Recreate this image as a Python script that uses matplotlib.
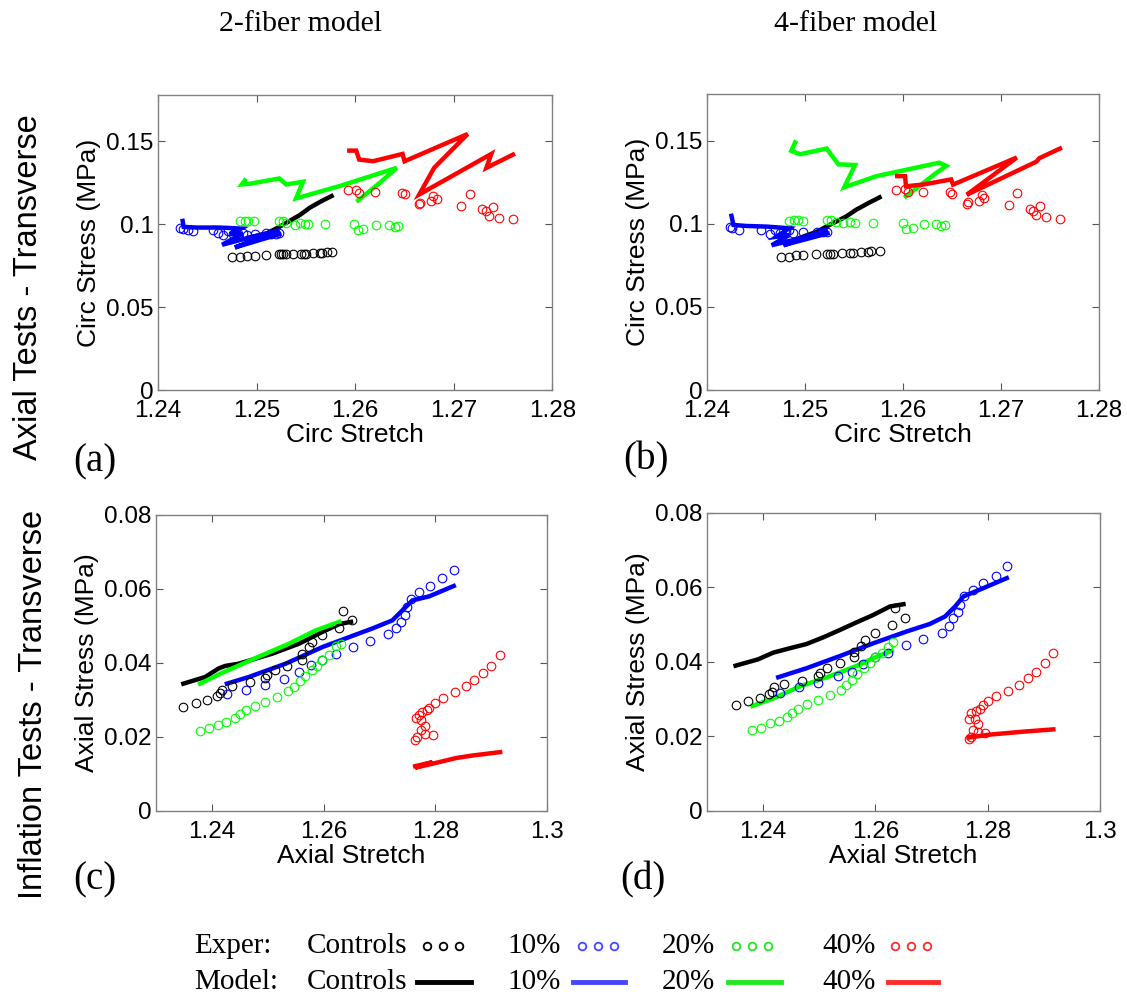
import matplotlib
matplotlib.use('Agg')
import matplotlib.pyplot as plt
from matplotlib.lines import Line2D

# ---------------- panel (a): axial tests, 2-fiber ----------------
a_exp_ctrl_x = [1.2475, 1.2483, 1.2490, 1.2498, 1.2510, 1.2523, 1.2525, 1.2527, 1.2530, 1.2537,
                1.2545, 1.2548, 1.2550, 1.2557, 1.2564, 1.2566, 1.2571, 1.2576]
a_exp_ctrl_y = [0.0804, 0.0800, 0.0806, 0.0810, 0.0814, 0.0820, 0.0820, 0.0820, 0.0820, 0.0820,
                0.0820, 0.0820, 0.0820, 0.0826, 0.0826, 0.0826, 0.0832, 0.0832]
a_mod_ctrl_x = [1.2493, 1.2510, 1.2523, 1.2544, 1.2554, 1.2566, 1.2576]
a_mod_ctrl_y = [0.0920, 0.0944, 0.0984, 0.1056, 0.1100, 0.1140, 0.1170]
a_exp_10_x = [1.2422, 1.2425, 1.2430, 1.2435, 1.2456, 1.2461, 1.2466, 1.2471, 1.2476, 1.2481,
              1.2486, 1.2490, 1.2498, 1.2510, 1.2515, 1.2520, 1.2523]
a_exp_10_y = [0.0980, 0.0970, 0.0964, 0.0960, 0.0964, 0.0950, 0.0936, 0.0960, 0.0944, 0.0936,
              0.0950, 0.0936, 0.0944, 0.0950, 0.0940, 0.0944, 0.0950]
a_mod_10_x = [1.2425, 1.2426, 1.2439, 1.2463, 1.2484, 1.2473, 1.2486, 1.2465, 1.2493, 1.2523, 1.2478, 1.2523]
a_mod_10_y = [0.1020, 0.0984, 0.0980, 0.0980, 0.0974, 0.0940, 0.0944, 0.0876, 0.0920, 0.0964, 0.0860, 0.0940]
a_exp_20_x = [1.2483, 1.2488, 1.2491, 1.2497, 1.2523, 1.2527, 1.2530, 1.2539, 1.2544, 1.2549,
              1.2552, 1.2569, 1.2599, 1.2603, 1.2608, 1.2621, 1.2634, 1.2640, 1.2643]
a_exp_20_y = [0.1020, 0.1020, 0.1020, 0.1020, 0.1020, 0.1020, 0.1010, 0.0996, 0.1010, 0.1004,
              0.1004, 0.1000, 0.1000, 0.0964, 0.0974, 0.0994, 0.0994, 0.0984, 0.0990]
a_mod_20_x = [1.2488, 1.2485, 1.2493, 1.2523, 1.2530, 1.2547, 1.2540, 1.2584, 1.2642, 1.2625, 1.2603]
a_mod_20_y = [0.1264, 0.1240, 0.1244, 0.1276, 0.1240, 0.1256, 0.1156, 0.1230, 0.1340, 0.1250, 0.1144]
a_exp_40_x = [1.2593, 1.2601, 1.2604, 1.2620, 1.2647, 1.2650, 1.2665, 1.2666, 1.2677, 1.2679,
              1.2683, 1.2707, 1.2716, 1.2729, 1.2733, 1.2736, 1.2740, 1.2746, 1.2760]
a_exp_40_y = [0.1204, 0.1204, 0.1190, 0.1194, 0.1190, 0.1180, 0.1120, 0.1130, 0.1140, 0.1170,
              0.1150, 0.1110, 0.1180, 0.1090, 0.1080, 0.1050, 0.1104, 0.1040, 0.1030]
a_mod_40_x = [1.2594, 1.2601, 1.2604, 1.2618, 1.2648, 1.2650, 1.2714, 1.2680, 1.2665, 1.2738, 1.2733, 1.2760]
a_mod_40_y = [0.1444, 0.1444, 0.1390, 0.1380, 0.1424, 0.1380, 0.1544, 0.1340, 0.1180, 0.1424, 0.1340, 0.1420]

# ---------------- panel (b): axial tests, 4-fiber ----------------
b_exp_ctrl_x = [1.2475, 1.2484, 1.2491, 1.2498, 1.2511, 1.2522, 1.2525, 1.2529, 1.2538, 1.2546,
                1.2549, 1.2557, 1.2564, 1.2567, 1.2576]
b_exp_ctrl_y = [0.0801, 0.0801, 0.0811, 0.0815, 0.0817, 0.0822, 0.0822, 0.0822, 0.0826, 0.0826,
                0.0826, 0.0832, 0.0832, 0.0836, 0.0838]
b_mod_ctrl_x = [1.2495, 1.2512, 1.2525, 1.2542, 1.2552, 1.2566, 1.2576]
b_mod_ctrl_y = [0.0917, 0.0953, 0.0994, 0.1045, 0.1085, 0.1130, 0.1160]
b_exp_10_x = [1.2423, 1.2426, 1.2433, 1.2455, 1.2464, 1.2469, 1.2474, 1.2481, 1.2484, 1.2488,
              1.2498, 1.2512, 1.2518, 1.2522]
b_exp_10_y = [0.0984, 0.0974, 0.0963, 0.0963, 0.0937, 0.0963, 0.0943, 0.0953, 0.0963, 0.0943,
              0.0949, 0.0953, 0.0953, 0.0949]
b_mod_10_x = [1.2425, 1.2427, 1.2440, 1.2461, 1.2484, 1.2471, 1.2484, 1.2466, 1.2495, 1.2523, 1.2478, 1.2523]
b_mod_10_y = [0.1049, 0.0994, 0.0988, 0.0984, 0.0974, 0.0923, 0.0933, 0.0872, 0.0913, 0.0963, 0.0872, 0.0943]
b_exp_20_x = [1.2484, 1.2489, 1.2493, 1.2498, 1.2522, 1.2527, 1.2532, 1.2539, 1.2546, 1.2551,
              1.2569, 1.2600, 1.2603, 1.2610, 1.2621, 1.2634, 1.2639, 1.2643]
b_exp_20_y = [0.1018, 0.1024, 0.1024, 0.1020, 0.1024, 0.1024, 0.1010, 0.1004, 0.1014, 0.1008,
              0.1004, 0.1004, 0.0968, 0.0974, 0.0998, 0.0998, 0.0990, 0.0994]
b_mod_20_x = [1.2490, 1.2486, 1.2495, 1.2522, 1.2534, 1.2551, 1.2540, 1.2573, 1.2637, 1.2644, 1.2634, 1.2603]
b_mod_20_y = [0.1491, 0.1440, 0.1420, 0.1454, 0.1359, 0.1355, 0.1221, 0.1288, 0.1369, 0.1349, 0.1308, 0.1166]
b_exp_40_x = [1.2593, 1.2602, 1.2605, 1.2620, 1.2648, 1.2650, 1.2665, 1.2666, 1.2677, 1.2680,
              1.2683, 1.2708, 1.2716, 1.2729, 1.2733, 1.2736, 1.2740, 1.2746, 1.2760]
b_exp_40_y = [0.1207, 0.1211, 0.1193, 0.1193, 0.1193, 0.1181, 0.1120, 0.1132, 0.1140, 0.1172,
              0.1156, 0.1112, 0.1185, 0.1091, 0.1075, 0.1051, 0.1108, 0.1041, 0.1030]
b_mod_40_x = [1.2594, 1.2602, 1.2603, 1.2620, 1.2649, 1.2651, 1.2716, 1.2678, 1.2665, 1.2736, 1.2739, 1.2760]
b_mod_40_y = [0.1288, 0.1288, 0.1227, 0.1237, 0.1268, 0.1237, 0.1400, 0.1233, 0.1176, 0.1375, 0.1396, 0.1454]

# ---------------- panel (c): inflation tests, 2-fiber ----------------
c_exp_ctrl_x = [1.2349, 1.2371, 1.2392, 1.2409, 1.2414, 1.2418, 1.2436, 1.2469, 1.2496, 1.2499,
                1.2513, 1.2535, 1.2562, 1.2562, 1.2574, 1.2580, 1.2598, 1.2628, 1.2634, 1.2651]
c_exp_ctrl_y = [0.0281, 0.0292, 0.0299, 0.0310, 0.0319, 0.0328, 0.0337, 0.0349, 0.0360, 0.0368,
                0.0380, 0.0392, 0.0409, 0.0425, 0.0443, 0.0457, 0.0476, 0.0495, 0.0541, 0.0517]
c_mod_ctrl_x = [1.2349, 1.2388, 1.2412, 1.2424, 1.2448, 1.2508, 1.2556, 1.2598, 1.2628, 1.2649]
c_mod_ctrl_y = [0.0344, 0.0362, 0.0385, 0.0392, 0.0398, 0.0425, 0.0452, 0.0484, 0.0505, 0.0511]
c_exp_10_x = [1.2427, 1.2461, 1.2496, 1.2530, 1.2556, 1.2577, 1.2598, 1.2622, 1.2653, 1.2683,
              1.2716, 1.2729, 1.2738, 1.2746, 1.2749, 1.2757, 1.2771, 1.2791, 1.2812, 1.2833]
c_exp_10_y = [0.0317, 0.0328, 0.0341, 0.0357, 0.0376, 0.0395, 0.0409, 0.0423, 0.0442, 0.0458,
              0.0477, 0.0495, 0.0511, 0.0529, 0.0551, 0.0574, 0.0592, 0.0608, 0.0630, 0.0652]
c_mod_10_x = [1.2427, 1.2466, 1.2532, 1.2598, 1.2646, 1.2687, 1.2723, 1.2741, 1.2759, 1.2789, 1.2833]
c_mod_10_y = [0.0344, 0.0362, 0.0398, 0.0443, 0.0470, 0.0493, 0.0515, 0.0542, 0.0569, 0.0580, 0.0608]
c_exp_20_x = [1.2378, 1.2395, 1.2411, 1.2425, 1.2441, 1.2451, 1.2461, 1.2477, 1.2496, 1.2517,
              1.2537, 1.2547, 1.2557, 1.2566, 1.2580, 1.2589, 1.2598, 1.2610, 1.2622, 1.2631]
c_exp_20_y = [0.0215, 0.0223, 0.0233, 0.0241, 0.0250, 0.0261, 0.0272, 0.0284, 0.0295, 0.0308,
              0.0323, 0.0335, 0.0350, 0.0365, 0.0380, 0.0392, 0.0409, 0.0421, 0.0446, 0.0450]
c_mod_20_x = [1.2379, 1.2418, 1.2478, 1.2538, 1.2586, 1.2628]
c_mod_20_y = [0.0344, 0.0373, 0.0413, 0.0452, 0.0488, 0.0511]
c_exp_40_x = [1.2764, 1.2768, 1.2782, 1.2795, 1.2774, 1.2782, 1.2774, 1.2765, 1.2770, 1.2777,
              1.2786, 1.2789, 1.2800, 1.2814, 1.2835, 1.2855, 1.2870, 1.2885, 1.2900, 1.2916]
c_exp_40_y = [0.0191, 0.0200, 0.0209, 0.0204, 0.0218, 0.0229, 0.0245, 0.0250, 0.0259, 0.0268,
              0.0272, 0.0277, 0.0293, 0.0305, 0.0321, 0.0337, 0.0353, 0.0373, 0.0393, 0.0422]
c_mod_40_x = [1.2764, 1.2795, 1.2764, 1.2796, 1.2837, 1.2867, 1.2916]
c_mod_40_y = [0.0121, 0.0132, 0.0117, 0.0128, 0.0143, 0.0150, 0.0159]

# ---------------- panel (d): inflation tests, 4-fiber ----------------
d_exp_ctrl_x = [1.2351, 1.2373, 1.2394, 1.2411, 1.2415, 1.2420, 1.2437, 1.2470, 1.2498, 1.2501,
                1.2513, 1.2537, 1.2562, 1.2562, 1.2575, 1.2581, 1.2599, 1.2629, 1.2635, 1.2653]
d_exp_ctrl_y = [0.0284, 0.0295, 0.0302, 0.0314, 0.0320, 0.0334, 0.0340, 0.0349, 0.0361, 0.0370,
                0.0383, 0.0396, 0.0414, 0.0428, 0.0443, 0.0459, 0.0479, 0.0500, 0.0544, 0.0517]
d_mod_ctrl_x = [1.2351, 1.2391, 1.2418, 1.2448, 1.2477, 1.2507, 1.2537, 1.2566, 1.2596, 1.2626, 1.2650]
d_mod_ctrl_y = [0.0390, 0.0407, 0.0425, 0.0437, 0.0448, 0.0466, 0.0486, 0.0506, 0.0526, 0.0549, 0.0555]
d_exp_10_x = [1.2430, 1.2464, 1.2498, 1.2533, 1.2559, 1.2578, 1.2600, 1.2623, 1.2654, 1.2685,
              1.2718, 1.2732, 1.2739, 1.2747, 1.2751, 1.2758, 1.2773, 1.2792, 1.2814, 1.2834]
d_exp_10_y = [0.0317, 0.0334, 0.0343, 0.0361, 0.0374, 0.0395, 0.0413, 0.0423, 0.0445, 0.0461,
              0.0479, 0.0497, 0.0517, 0.0533, 0.0553, 0.0578, 0.0594, 0.0612, 0.0631, 0.0657]
d_mod_10_x = [1.2427, 1.2477, 1.2537, 1.2596, 1.2656, 1.2697, 1.2724, 1.2742, 1.2757, 1.2792, 1.2834]
d_mod_10_y = [0.0359, 0.0383, 0.0416, 0.0450, 0.0482, 0.0502, 0.0522, 0.0549, 0.0576, 0.0598, 0.0625]
d_exp_20_x = [1.2380, 1.2397, 1.2413, 1.2428, 1.2443, 1.2452, 1.2462, 1.2478, 1.2497, 1.2519,
              1.2538, 1.2547, 1.2558, 1.2568, 1.2579, 1.2590, 1.2599, 1.2611, 1.2623, 1.2632]
d_exp_20_y = [0.0217, 0.0223, 0.0235, 0.0242, 0.0253, 0.0264, 0.0273, 0.0287, 0.0298, 0.0311,
              0.0326, 0.0338, 0.0352, 0.0368, 0.0383, 0.0396, 0.0413, 0.0425, 0.0439, 0.0453]
d_mod_20_x = [1.2381, 1.2418, 1.2465, 1.2519, 1.2566, 1.2602, 1.2629]
d_mod_20_y = [0.0282, 0.0302, 0.0334, 0.0362, 0.0389, 0.0414, 0.0430]
d_exp_40_x = [1.2766, 1.2770, 1.2782, 1.2795, 1.2774, 1.2783, 1.2777, 1.2766, 1.2771, 1.2780,
              1.2786, 1.2792, 1.2801, 1.2815, 1.2836, 1.2855, 1.2871, 1.2886, 1.2902, 1.2917]
d_exp_40_y = [0.0192, 0.0199, 0.0213, 0.0208, 0.0217, 0.0233, 0.0246, 0.0248, 0.0262, 0.0268,
              0.0274, 0.0284, 0.0296, 0.0309, 0.0323, 0.0338, 0.0356, 0.0374, 0.0396, 0.0425]
d_mod_40_x = [1.2766, 1.2804, 1.2864, 1.2917]
d_mod_40_y = [0.0197, 0.0205, 0.0213, 0.0219]

groups = ['Controls', '10%', '20%', '40%']
colors = ['black', 'blue', '#00ff00', 'red']
legend_colors = ['black', '#4646ff', '#22e822', '#ff2a2a']

col_titles = ['2-fiber model', '4-fiber model']
row_titles = ['Axial Tests - Transverse', 'Inflation Tests - Transverse']
panel_tags = ['(a)', '(b)', '(c)', '(d)']

SANS = 'Liberation Sans'
SERIF = 'Liberation Serif'

fig = plt.figure(figsize=(11.27, 9.97), dpi=100)

panels = [
    ([a_exp_ctrl_x, a_exp_10_x, a_exp_20_x, a_exp_40_x], [a_exp_ctrl_y, a_exp_10_y, a_exp_20_y, a_exp_40_y],
     [a_mod_ctrl_x, a_mod_10_x, a_mod_20_x, a_mod_40_x], [a_mod_ctrl_y, a_mod_10_y, a_mod_20_y, a_mod_40_y]),
    ([b_exp_ctrl_x, b_exp_10_x, b_exp_20_x, b_exp_40_x], [b_exp_ctrl_y, b_exp_10_y, b_exp_20_y, b_exp_40_y],
     [b_mod_ctrl_x, b_mod_10_x, b_mod_20_x, b_mod_40_x], [b_mod_ctrl_y, b_mod_10_y, b_mod_20_y, b_mod_40_y]),
    ([c_exp_ctrl_x, c_exp_10_x, c_exp_20_x, c_exp_40_x], [c_exp_ctrl_y, c_exp_10_y, c_exp_20_y, c_exp_40_y],
     [c_mod_ctrl_x, c_mod_10_x, c_mod_20_x, c_mod_40_x], [c_mod_ctrl_y, c_mod_10_y, c_mod_20_y, c_mod_40_y]),
    ([d_exp_ctrl_x, d_exp_10_x, d_exp_20_x, d_exp_40_x], [d_exp_ctrl_y, d_exp_10_y, d_exp_20_y, d_exp_40_y],
     [d_mod_ctrl_x, d_mod_10_x, d_mod_20_x, d_mod_40_x], [d_mod_ctrl_y, d_mod_10_y, d_mod_20_y, d_mod_40_y]),
]

# axes boxes in figure fractions [left, bottom, width, height]
boxes = [[0.1402, 0.6088, 0.3500, 0.2960],
         [0.6273, 0.6088, 0.3480, 0.2965],
         [0.1384, 0.1866, 0.3470, 0.2969],
         [0.6273, 0.1866, 0.3487, 0.2989]]

for i, (ex, ey, mx, my) in enumerate(panels):
    ax = fig.add_axes(boxes[i])
    for k in range(4):
        ax.plot(mx[k], my[k], '-', color=colors[k], lw=3.2, solid_joinstyle='miter', zorder=2)
        ax.plot(ex[k], ey[k], 'o', ls='none', mfc='none', mec=colors[k], ms=6.2, mew=0.8, zorder=3)
    if i < 2:
        ax.set_xlim(1.24, 1.28)
        ax.set_ylim(0, 0.178)
        ax.set_xticks([1.24, 1.25, 1.26, 1.27, 1.28])
        ax.set_xticklabels(['1.24', '1.25', '1.26', '1.27', '1.28'])
        ax.set_yticks([0, 0.05, 0.1, 0.15])
        ax.set_yticklabels(['0', '0.05', '0.1', '0.15'])
        ax.set_xlabel('Circ Stretch', fontname=SANS, fontsize=19, labelpad=1)
        ax.set_ylabel('Circ Stress (MPa)', fontname=SANS, fontsize=19, labelpad=4)
    else:
        ax.set_xlim(1.23, 1.30)
        ax.set_ylim(0, 0.08)
        ax.set_xticks([1.24, 1.26, 1.28, 1.30])
        ax.set_xticklabels(['1.24', '1.26', '1.28', '1.3'])
        ax.set_yticks([0, 0.02, 0.04, 0.06, 0.08])
        ax.set_yticklabels(['0', '0.02', '0.04', '0.06', '0.08'])
        ax.set_xlabel('Axial Stretch', fontname=SANS, fontsize=19, labelpad=1)
        ax.set_ylabel('Axial Stress (MPa)', fontname=SANS, fontsize=19, labelpad=4)
    ax.tick_params(direction='in', length=5, width=0.8, top=True, right=True,
                   labelsize=17.5, color='#555555')
    ax.tick_params(axis='x', pad=7)
    ax.tick_params(axis='y', pad=3)
    for lab in ax.get_xticklabels() + ax.get_yticklabels():
        lab.set_fontname(SANS)
    for sp in ax.spines.values():
        sp.set_color('#808080')
        sp.set_linewidth(1.0)

# column titles
fig.text(0.267, 0.976, col_titles[0], ha='center', va='center', fontname=SERIF, fontsize=21.5)
fig.text(0.759, 0.976, col_titles[1], ha='center', va='center', fontname=SERIF, fontsize=21.5)
# row titles
fig.text(0.025, 0.712, row_titles[0], rotation=90, ha='center', va='center', fontname=SANS, fontsize=23.5)
fig.text(0.030, 0.293, row_titles[1], rotation=90, ha='center', va='center', fontname=SANS, fontsize=23.5)
# panel tags
tag_pos = [(0.0843, 0.537), (0.573, 0.539), (0.0843, 0.117), (0.5705, 0.117)]
for tag, (tx, ty) in zip(panel_tags, tag_pos):
    fig.text(tx, ty, tag, ha='center', va='center', fontname=SERIF, fontsize=28)

# bottom legend drawn by hand
W, H = 1127.0, 997.0
row_y = [946, 982]
fig.text(194 / W, 1 - row_y[0] / H, 'Exper:', ha='left', va='center', fontname=SERIF, fontsize=21)
fig.text(194 / W, 1 - row_y[1] / H, 'Model:', ha='left', va='center', fontname=SERIF, fontsize=21)
text_x = [307, 507, 662, 822]
mark_x = [427, 582, 736, 895]
line_x = [(417, 471), (573, 625), (728, 781), (888, 938)]
for k in range(4):
    for r in range(2):
        fig.text(text_x[k] / W, 1 - row_y[r] / H, groups[k], ha='left', va='center',
                 fontname=SERIF, fontsize=21)
    for j in range(3):
        fig.add_artist(Line2D([(mark_x[k] + 16 * j) / W], [1 - row_y[0] / H], transform=fig.transFigure,
                              marker='o', ls='none', mfc='none', mec=legend_colors[k], ms=5.5, mew=1.3))
    fig.add_artist(Line2D([line_x[k][0] / W, line_x[k][1] / W], [1 - row_y[1] / H, 1 - row_y[1] / H],
                          transform=fig.transFigure, color=legend_colors[k], lw=3.5))

plt.savefig('out.png', dpi=100)
